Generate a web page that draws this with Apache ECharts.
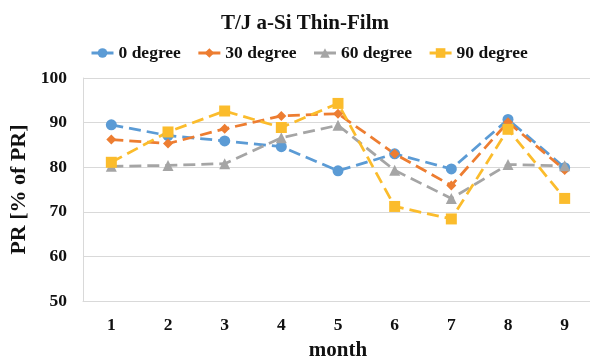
<!DOCTYPE html>
<html><head><meta charset="utf-8">
<script src="https://cdn.jsdelivr.net/npm/echarts@6/dist/echarts.min.js"></script>
<style>html,body{margin:0;padding:0;background:#fff}#c{width:590px;height:360px}</style>
</head><body><div id="c"></div>
<script>
const months = ['1','2','3','4','5','6','7','8','9'];
const deg0  = [89.5, 87.1, 85.9, 84.6, 79.2, 83.0, 79.6, 90.7, 79.9];
const deg30 = [86.2, 85.3, 88.6, 91.5, 92.0, 83.0, 75.9, 90.1, 79.4];
const deg60 = [80.2, 80.4, 80.8, 86.6, 89.4, 79.3, 73.0, 80.6, 80.3];
const deg90 = [81.1, 87.9, 92.6, 88.9, 94.3, 71.2, 68.4, 88.5, 73.0];
const seriesNames = ['0 degree','30 degree','60 degree','90 degree'];
const colors = ['#5B9BD5','#ED7D31','#A5A5A5','#FBBC2C'];
const symbols = ['circle','diamond','triangle','rect'];
const sizes = [11, 10, 11, 11];
const data = [deg0, deg30, deg60, deg90];
const font = '"Liberation Serif","Times New Roman",serif';
const chart = echarts.init(document.getElementById('c'));
chart.setOption({
  animation:false,
  title:{text:'T/J a-Si Thin-Film',left:216,top:8,textStyle:{fontFamily:font,fontWeight:'bold',fontSize:21,color:'#111'}},
  legend:{top:39,left:85,itemGap:16,itemWidth:22,itemHeight:12,
    lineStyle:{type:'solid',width:3},
    textStyle:{fontFamily:font,fontWeight:'bold',fontSize:17.5,color:'#111'},
    data:seriesNames},
  grid:{left:83,right:-3,top:78,bottom:59,outerBoundsMode:'none'},
  xAxis:{type:'category',data:months,boundaryGap:true,
    name:'month',nameLocation:'middle',nameGap:39,
    nameTextStyle:{fontFamily:font,fontWeight:'bold',fontSize:21,color:'#111'},
    axisLine:{lineStyle:{color:'#D9D9D9'}},axisTick:{show:false},
    axisLabel:{fontFamily:font,fontWeight:'bold',fontSize:17.5,color:'#111',margin:15}},
  yAxis:{type:'value',min:50,max:100,interval:10,
    name:'PR [% of PR]',nameLocation:'middle',nameGap:50,
    nameTextStyle:{fontFamily:font,fontWeight:'bold',fontSize:22,color:'#111'},
    axisLine:{show:true,lineStyle:{color:'#D9D9D9'}},axisTick:{show:false},
    splitLine:{lineStyle:{color:'#D9D9D9'}},
    axisLabel:{fontFamily:font,fontWeight:'bold',fontSize:17.5,color:'#111',margin:16}},
  series:data.map((d,i)=>({
    name:seriesNames[i],type:'line',data:d,symbol:symbols[i],symbolSize:sizes[i],
    showAllSymbol:true,
    lineStyle:{color:colors[i],width:2.75,type:[12,6]},
    itemStyle:{color:colors[i]}
  }))
});
</script></body></html>
